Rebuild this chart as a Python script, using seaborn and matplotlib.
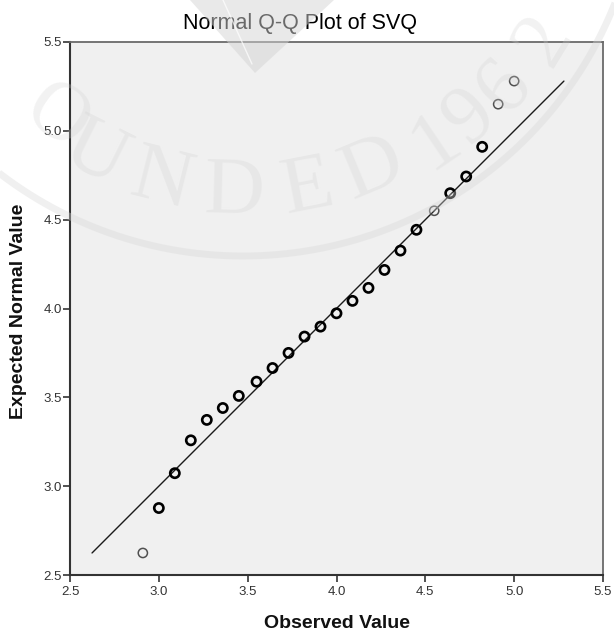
import numpy as np
import pandas as pd
import matplotlib
matplotlib.use("Agg")
import matplotlib.pyplot as plt
import seaborn as sns
from matplotlib.lines import Line2D
from matplotlib.patches import Polygon

# Observed SVQ scores and their expected normal quantiles
observed = [2.91, 3.00, 3.09, 3.18, 3.27, 3.36, 3.45, 3.55, 3.64, 3.73, 3.82, 3.91,
            4.00, 4.09, 4.18, 4.27, 4.36, 4.45, 4.55, 4.64, 4.73, 4.82, 4.91, 5.00]
expected = [2.624, 2.877, 3.073, 3.258, 3.373, 3.440, 3.508, 3.588, 3.665, 3.750, 3.842, 3.898,
            3.973, 4.043, 4.116, 4.217, 4.326, 4.443, 4.550, 4.649, 4.743, 4.910, 5.150, 5.280]
# points backed by a single case
single_case = [True, False, False, False, False, False, False, False, False, False, False, False,
               False, False, False, False, False, False, True, False, False, False, True, True]

ticks = [2.5, 3.0, 3.5, 4.0, 4.5, 5.0, 5.5]
tick_labels = ["2.5", "3.0", "3.5", "4.0", "4.5", "5.0", "5.5"]

title = "Normal Q-Q Plot of SVQ"
x_label = "Observed Value"
y_label = "Expected Normal Value"

df = pd.DataFrame({"observed": observed, "expected": expected, "single": single_case})

sns.set_theme(style="white")
plt.rcParams["font.family"] = ["Liberation Sans", "DejaVu Sans"]

W, H = 614, 633
fig = plt.figure(figsize=(W / 100, H / 100), dpi=100)
ax = fig.add_axes([70 / W, 1 - 575 / H, 533 / W, 533 / H])
ax.set_facecolor("#f0f0f0")

# reference line through the range of expected values
lo, hi = min(expected), max(expected)
sns.lineplot(x=[lo, hi], y=[lo, hi], ax=ax, color="#1a1a1a", linewidth=1.0, zorder=2)

multi = df[~df["single"]]
single = df[df["single"]]
sns.scatterplot(data=multi, x="observed", y="expected", ax=ax, s=44,
                facecolors="none", edgecolor="#000000", linewidth=1.9, zorder=3)
sns.scatterplot(data=single, x="observed", y="expected", ax=ax, s=44,
                facecolors="none", edgecolor="#505050", linewidth=1.1, zorder=3)

ax.set_xlim(2.5, 5.5)
ax.set_ylim(2.5, 5.5)
ax.set_xticks(ticks)
ax.set_xticklabels(tick_labels)
ax.set_yticks(ticks)
ax.set_yticklabels(tick_labels)
ax.tick_params(axis="both", which="major", length=5, width=1.2, color="#333333",
               labelsize=9.5, labelcolor="#333333", direction="out")
ax.tick_params(axis="x", pad=3, bottom=True)
ax.tick_params(axis="y", pad=1, left=True)

for side in ["left", "bottom"]:
    ax.spines[side].set_color("#333333")
    ax.spines[side].set_linewidth(1.5)
for side in ["top", "right"]:
    ax.spines[side].set_color("#6a6a6a")
    ax.spines[side].set_linewidth(1.3)
    ax.spines[side].set_visible(True)

ax.set_xlabel("")
ax.set_ylabel("")
fig.text(336.5 / W, 1 - 623 / H, x_label, ha="center", va="center",
         fontsize=14, fontweight="bold", color="#111111")
fig.text(19 / W, 1 - 311 / H, y_label, ha="center", va="center", rotation=90,
         fontsize=14, fontweight="bold", color="#111111")
fig.text(300 / W, 1 - 23 / H, title, ha="center", va="center",
         fontsize=15.5, color="#000000")

# faint seal watermark laid over the whole figure
wm_color = "#d4d4d4"


def px(x, y):
    return x / W, 1 - y / H


tri = Polygon([px(190, 0), px(334, 0), px(255, 73)], closed=True,
              transform=fig.transFigure, facecolor=wm_color, edgecolor="none",
              alpha=0.5, zorder=10)
fig.add_artist(tri)
hx, hy = zip(px(223, 0), px(252, 64))
fig.add_artist(Line2D(hx, hy, transform=fig.transFigure, color="white",
                      linewidth=1.0, alpha=0.7, zorder=11))

cx, cy, r_ring = 243, -144, 400
theta = np.radians(np.linspace(5, 175, 400))
ring = [px(cx + r_ring * np.cos(t), cy + r_ring * np.sin(t)) for t in theta]
rx, ry = zip(*ring)
fig.add_artist(Line2D(rx, ry, transform=fig.transFigure, color="#d8d8d8",
                      linewidth=5, alpha=0.38, zorder=10, solid_capstyle="butt"))

seal_letters = ["O", "U", "N", "D", "E", "D", "1", "9", "6", "2"]
seal_angles = [125.5, 116.5, 104, 91.5, 79, 67.5, 56, 49, 41.5, 31.5]
seal_radii = [322, 334, 336, 338, 340, 340, 344, 347, 350, 354]
for ch, ang, rad in zip(seal_letters, seal_angles, seal_radii):
    a = np.radians(ang)
    fig.text(*px(cx + rad * np.cos(a), cy + rad * np.sin(a)), ch,
             rotation=90 - ang, rotation_mode="anchor", ha="center", va="center",
             fontsize=60, family=["Liberation Serif", "DejaVu Serif"],
             color="#d0d0d0", alpha=0.28, zorder=10)

fig.savefig("out.png", dpi=100, facecolor="white")
